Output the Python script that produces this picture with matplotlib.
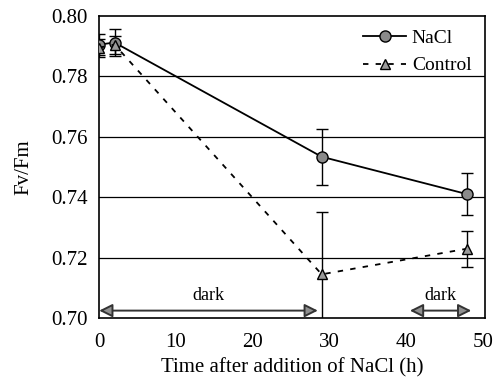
import matplotlib.pyplot as plt
from matplotlib.lines import Line2D

time_nacl = [0, 2, 29, 48]
fvfm_nacl = [0.7905, 0.7912, 0.7534, 0.7410]
err_nacl = [0.0035, 0.0045, 0.0093, 0.0070]

time_ctrl = [0, 2, 29, 48]
fvfm_ctrl = [0.7895, 0.7905, 0.7145, 0.7230]
err_ctrl = [0.0030, 0.0030, 0.0205, 0.0060]

dark_periods = [(0, 28.5), (40.5, 48.5)]
dark_label = "dark"

plt.rcParams['font.family'] = ['Liberation Serif', 'DejaVu Serif']

fig = plt.figure(figsize=(4.96, 3.88), dpi=100)
ax = fig.add_axes([0.2, 0.18, 0.778, 0.779])

for yv in [0.72, 0.74, 0.76, 0.78]:
    ax.axhline(yv, color='black', lw=0.9, zorder=0)

nacl_style = dict(color='black', lw=1.3, marker='o', markersize=8,
                  markerfacecolor='#8a8a8a', markeredgecolor='black')
ctrl_style = dict(color='black', lw=1.3, ls=(0, (3, 4)), marker='^', markersize=7,
                  markerfacecolor='#9a9a9a', markeredgecolor='black')

ax.errorbar(time_nacl, fvfm_nacl, yerr=err_nacl, capsize=4, elinewidth=1,
            zorder=3, **nacl_style)
ax.errorbar(time_ctrl, fvfm_ctrl, yerr=err_ctrl, capsize=4, elinewidth=1,
            zorder=3, **ctrl_style)

for start, end in dark_periods:
    ax.annotate('', xy=(start, 0.7025), xytext=(end, 0.7025),
                arrowprops=dict(arrowstyle='<|-|>', lw=1.4, mutation_scale=20,
                                facecolor='#909090', edgecolor='#333333',
                                shrinkA=0, shrinkB=0))
    ax.text((start + end) / 2, 0.7048, dark_label, ha='center', va='bottom',
            fontsize=13)

ax.set_xlim(0, 50.3)
ax.set_ylim(0.70, 0.80)
ax.set_xticks([0, 10, 20, 30, 40, 50])
ax.set_yticks([0.70, 0.72, 0.74, 0.76, 0.78, 0.80])
ax.set_yticklabels(['0.70', '0.72', '0.74', '0.76', '0.78', '0.80'])
ax.tick_params(length=0, labelsize=15)
ax.tick_params(axis='x', pad=11)
ax.tick_params(axis='y', pad=8)
ax.set_xlabel('Time after addition of NaCl (h)', fontsize=15, labelpad=4)
ax.set_ylabel('Fv/Fm', fontsize=15, labelpad=13)
for s in ax.spines.values():
    s.set_linewidth(1.2)

handles = [Line2D([], [], **nacl_style), Line2D([], [], **ctrl_style)]
ax.legend(handles, ['NaCl', 'Control'], loc='upper right', frameon=False,
          fontsize=14, handlelength=2.2, handletextpad=0.3, borderaxespad=0.3)

fig.savefig('out.png', dpi=100)
